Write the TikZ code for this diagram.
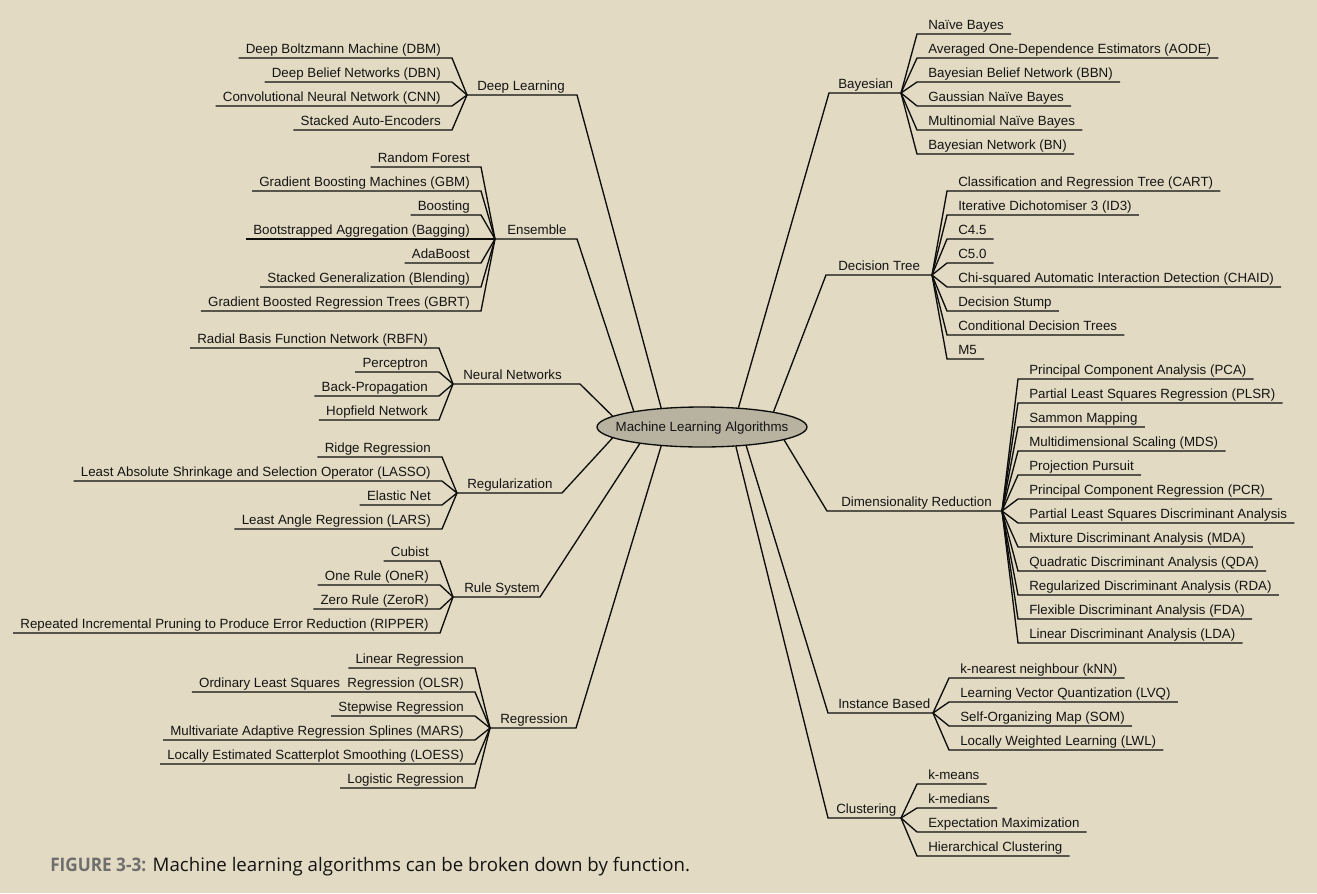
\documentclass[tikz,border=0pt]{standalone}
\usepackage{fontspec}
\setmainfont{Liberation Sans}
\newfontfamily\capfont{Open Sans}
\newfontfamily\capbold{Open Sans}[FakeStretch=0.92]
\usetikzlibrary{shapes.geometric}
\definecolor{bgc}{RGB}{226,218,194}
\definecolor{ellc}{RGB}{184,179,161}
\definecolor{txt}{RGB}{20,20,20}
\definecolor{capgray}{RGB}{110,110,110}
\tikzset{
  leaf/.style={inner sep=0pt, text=txt, font=\fontsize{10}{12}\selectfont},
  ln/.style={line width=1pt, draw=black!95},
}
\newcommand\lleaf[5]{%
  \node[leaf, anchor=base east] (#1) at ({#3-11},{#4-5}) {#5};
  \draw[ln] (#2) -- ([shift={(8.25pt,-3.75pt)}]#1.base east) -- ([shift={(-5.25pt,-3.75pt)}]#1.base west);
}
\newcommand\rleaf[5]{%
  \node[leaf, anchor=base west] (#1) at ({#3+11},{#4-5}) {#5};
  \draw[ln] (#2) -- ([shift={(-8.25pt,-3.75pt)}]#1.base west) -- ([shift={(5.25pt,-3.75pt)}]#1.base east);
}
\begin{document}
\begin{tikzpicture}[x=0.75pt,y=-0.75pt]
\fill[bgc] (0,0) rectangle (1317,893);
\useasboundingbox (0,0) rectangle (1317,893);

% centre
\node[draw=black!95, line width=1pt, ellipse, fill=ellc, minimum width=157.5pt, minimum height=30pt, inner sep=0pt] (ML) at (702,427) {};
\node[leaf] (MLt) at ([yshift=-0.75pt]ML) {Machine Learning Algorithms};

% ---------- Deep Learning
\coordinate (hDL) at (467,95);
\coordinate (eDL) at (577,95);
\node[leaf, anchor=base west] (cDL) at (477,90) {Deep Learning};
\draw[ln] (hDL) -- (eDL) -- (ML.155.7);
\lleaf{dl1}{hDL}{452}{58}{Deep Boltzmann Machine (DBM)}
\lleaf{dl2}{hDL}{452}{82}{Deep Belief Networks (DBN)}
\lleaf{dl3}{hDL}{452}{106}{Convolutional Neural Network (CNN)}
\lleaf{dl4}{hDL}{452}{130}{Stacked Auto-Encoders}

% ---------- Ensemble
\coordinate (hEn) at (495,239);
\coordinate (eEn) at (577,239);
\node[leaf, anchor=base west] (cEn) at (507,234) {Ensemble};
\draw[ln] (hEn) -- (eEn) -- (ML.167.2);
\lleaf{en1}{hEn}{481}{167}{Random Forest}
\lleaf{en2}{hEn}{481}{191}{Gradient Boosting Machines (GBM)}
\lleaf{en3}{hEn}{481}{215}{Boosting}
\lleaf{en4}{hEn}{481}{239}{Bootstrapped Aggregation (Bagging)}
\lleaf{en5}{hEn}{481}{263}{AdaBoost}
\lleaf{en6}{hEn}{481}{287}{Stacked Generalization (Blending)}
\lleaf{en7}{hEn}{481}{311}{Gradient Boosted Regression Trees (GBRT)}

% ---------- Neural Networks
\coordinate (hNN) at (453,384);
\coordinate (eNN) at (580,384);
\node[leaf, anchor=base west] (cNN) at (463,379) {Neural Networks};
\draw[ln] (hNN) -- (eNN) -- (ML.173.9);
\lleaf{nn1}{hNN}{439}{348}{Radial Basis Function Network (RBFN)}
\lleaf{nn2}{hNN}{439}{372}{Perceptron}
\lleaf{nn3}{hNN}{439}{396}{Back-Propagation}
\lleaf{nn4}{hNN}{439}{420}{Hopfield Network}

% ---------- Regularization
\coordinate (hRg) at (457,493);
\coordinate (eRg) at (562,493);
\node[leaf, anchor=base west] (cRg) at (467,488) {Regularization};
\draw[ln] (hRg) -- (eRg) -- (ML.187.9);
\lleaf{rg1}{hRg}{442}{457}{Ridge Regression}
\lleaf{rg2}{hRg}{442}{481}{Least Absolute Shrinkage and Selection Operator (LASSO)}
\lleaf{rg3}{hRg}{442}{505}{Elastic Net}
\lleaf{rg4}{hRg}{442}{529}{Least Angle Regression (LARS)}

% ---------- Rule System
\coordinate (hRS) at (453,597);
\coordinate (eRS) at (540,597);
\node[leaf, anchor=base west] (cRS) at (464,592) {Rule System};
\draw[ln] (hRS) -- (eRS) -- (ML.195.7);
\lleaf{rs1}{hRS}{440}{561}{Cubist}
\lleaf{rs2}{hRS}{440}{585}{One Rule (OneR)}
\lleaf{rs3}{hRS}{440}{609}{Zero Rule (ZeroR)}
\lleaf{rs4}{hRS}{440}{633}{Repeated Incremental Pruning to Produce Error Reduction (RIPPER)}

% ---------- Regression
\coordinate (hRe) at (490,728);
\coordinate (eRe) at (576,728);
\node[leaf, anchor=base west] (cRe) at (500,723) {Regression};
\draw[ln] (hRe) -- (eRe) -- (ML.205.5);
\lleaf{re1}{hRe}{475}{668}{Linear Regression}
\lleaf{re2}{hRe}{475}{692}{Ordinary Least Squares~ Regression (OLSR)}
\lleaf{re3}{hRe}{475}{716}{Stepwise Regression}
\lleaf{re4}{hRe}{475}{740}{Multivariate Adaptive Regression Splines (MARS)}
\lleaf{re5}{hRe}{475}{764}{Locally Estimated Scatterplot Smoothing (LOESS)}
\lleaf{re6}{hRe}{475}{788}{Logistic Regression}

% ---------- Bayesian
\coordinate (hBa) at (901,93);
\coordinate (eBa) at (829,93);
\node[leaf, anchor=base west] (cBa) at (838,88) {Bayesian};
\draw[ln] (hBa) -- (eBa) -- (ML.28.5);
\rleaf{ba1}{hBa}{917}{34}{Naïve Bayes}
\rleaf{ba2}{hBa}{917}{58}{Averaged One-Dependence Estimators (AODE)}
\rleaf{ba3}{hBa}{917}{82}{Bayesian Belief Network (BBN)}
\rleaf{ba4}{hBa}{917}{106}{Gaussian Naïve Bayes}
\rleaf{ba5}{hBa}{917}{130}{Multinomial Naïve Bayes}
\rleaf{ba6}{hBa}{917}{154}{Bayesian Network (BN)}

% ---------- Decision Tree
\coordinate (hDT) at (932,275);
\coordinate (eDT) at (826,275);
\node[leaf, anchor=base west] (cDT) at (838,270) {Decision Tree};
\draw[ln] (hDT) -- (eDT) -- (ML.12.8);
\rleaf{dt1}{hDT}{947}{191}{Classification and Regression Tree (CART)}
\rleaf{dt2}{hDT}{947}{215}{Iterative Dichotomiser 3 (ID3)}
\rleaf{dt3}{hDT}{947}{239}{C4.5}
\rleaf{dt4}{hDT}{947}{263}{C5.0}
\rleaf{dt5}{hDT}{947}{287}{Chi-squared Automatic Interaction Detection (CHAID)}
\rleaf{dt6}{hDT}{947}{311}{Decision Stump}
\rleaf{dt7}{hDT}{947}{335}{Conditional Decision Trees}
\rleaf{dt8}{hDT}{947}{359}{M5}

% ---------- Dimensionality Reduction
\coordinate (hDR) at (1002,511);
\coordinate (eDR) at (827,511);
\node[leaf, anchor=base west] (cDR) at (841,506) {Dimensionality Reduction};
\draw[ln] (hDR) -- (eDR) -- (ML.351.9);
\rleaf{dr1}{hDR}{1018}{379}{Principal Component Analysis (PCA)}
\rleaf{dr2}{hDR}{1018}{403}{Partial Least Squares Regression (PLSR)}
\rleaf{dr3}{hDR}{1018}{427}{Sammon Mapping}
\rleaf{dr4}{hDR}{1018}{451}{Multidimensional Scaling (MDS)}
\rleaf{dr5}{hDR}{1018}{475}{Projection Pursuit}
\rleaf{dr6}{hDR}{1018}{499}{Principal Component Regression (PCR)}
\rleaf{dr7}{hDR}{1018}{523}{Partial Least Squares Discriminant Analysis}
\rleaf{dr8}{hDR}{1018}{547}{Mixture Discriminant Analysis (MDA)}
\rleaf{dr9}{hDR}{1018}{571}{Quadratic Discriminant Analysis (QDA)}
\rleaf{dr10}{hDR}{1018}{595}{Regularized Discriminant Analysis (RDA)}
\rleaf{dr11}{hDR}{1018}{619}{Flexible Discriminant Analysis (FDA)}
\rleaf{dr12}{hDR}{1018}{643}{Linear Discriminant Analysis (LDA)}

% ---------- Instance Based
\coordinate (hIB) at (933,713);
\coordinate (eIB) at (828,713);
\node[leaf, anchor=base west] (cIB) at (838,708) {Instance Based};
\draw[ln] (hIB) -- (eIB) -- (ML.337.6);
\rleaf{ib1}{hIB}{949}{678}{k-nearest neighbour (kNN)}
\rleaf{ib2}{hIB}{949}{702}{Learning Vector Quantization (LVQ)}
\rleaf{ib3}{hIB}{949}{726}{Self-Organizing Map (SOM)}
\rleaf{ib4}{hIB}{949}{750}{Locally Weighted Learning (LWL)}

% ---------- Clustering
\coordinate (hCl) at (901,818);
\coordinate (eCl) at (828,818);
\node[leaf, anchor=base west] (cCl) at (836,813) {Clustering};
\draw[ln] (hCl) -- (eCl) -- (ML.330.3);
\rleaf{cl1}{hCl}{917}{784}{k-means}
\rleaf{cl2}{hCl}{917}{808}{k-medians}
\rleaf{cl3}{hCl}{917}{832}{Expectation Maximization}
\rleaf{cl4}{hCl}{917}{856}{Hierarchical Clustering}

% caption
\node[anchor=base west, inner sep=0pt, text=txt, font=\capfont\fontsize{14}{16}\selectfont] (cap) at (50,871)
  {{\capbold\bfseries\color{capgray}FIGURE 3-3:} Machine learning algorithms can be broken down by function.};
\end{tikzpicture}
\end{document}
